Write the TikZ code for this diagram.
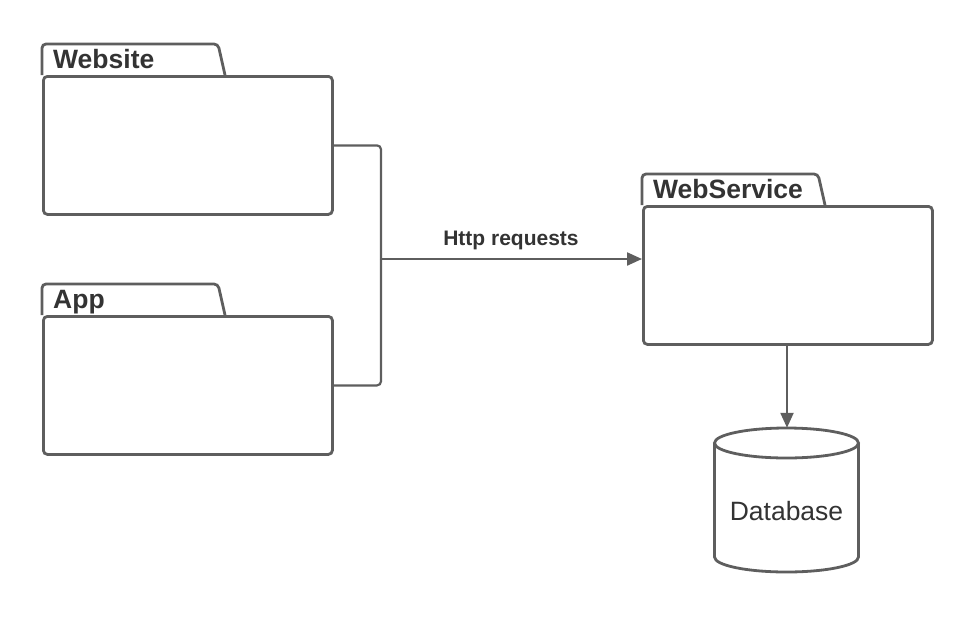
\documentclass[tikz,border=0pt]{standalone}
\usepackage{fontspec}
\setmainfont{Liberation Sans}
\usetikzlibrary{arrows.meta}
\definecolor{lc}{HTML}{5E5E5E}
\definecolor{tc}{HTML}{333333}
\tikzset{
  body/.style={draw=lc,line width=2.8pt,rounded corners=4pt,rectangle,inner sep=0pt,
    minimum width=289pt,minimum height=138pt,anchor=north west},
  tabline/.style={draw=lc,line width=2.8pt,rounded corners=4pt},
  ttl/.style={text=tc,font=\fontsize{26.5}{29}\selectfont\bfseries,anchor=base west,inner sep=0pt},
  conn/.style={draw=lc,line width=2.2pt,rounded corners=4pt},
  arr/.style={-{Triangle[length=15pt,width=13pt]}},
  dbline/.style={draw=lc,line width=2.8pt},
}
\newcommand{\folder}[4]{% name, x, y(top of tab), title
  \draw[tabline] (#2,#3+31) -- (#2,#3) -- (#2+176,#3) -- (#2+183,#3+31);
  \node[body] (#1) at (#2,#3+31) {};
  \node[ttl] (#1t) at (#2+11,#3+24) {#4};
}
\begin{document}
\begin{tikzpicture}[x=1pt,y=-1pt]
\useasboundingbox (0,0) rectangle (976,616);
\folder{web}{42}{44}{Website}
\folder{app}{42}{284}{App}
\folder{ws}{642}{174}{WebService}
% database
\node[inner sep=0pt,minimum width=144pt,minimum height=144pt] (db) at (786.5,500) {};
\draw[dbline] (786.5,443) ellipse [x radius=72pt,y radius=15pt];
\draw[dbline] (714.5,443) -- (714.5,557) arc[start angle=180,end angle=360,x radius=72pt,y radius=15pt] -- (858.5,443);
\node[text=tc,font=\fontsize{26.5}{29}\selectfont,anchor=base,inner sep=0pt] (dbt) at (786.5,520) {Database};
\coordinate (j) at (381,259);
\coordinate (wsb) at (787,343);
\draw[conn] (web.east) -| (j);
\draw[conn] (app.east) -| (j);
\draw[conn,arr] (j) -- (j -| ws.west);
\node[text=tc,font=\fontsize{21}{23}\selectfont\bfseries,anchor=base,inner sep=0pt] (lbl) at (511,245) {Http requests};
\draw[conn,arr] (wsb) -- (db.north -| wsb);
\end{tikzpicture}
\end{document}
